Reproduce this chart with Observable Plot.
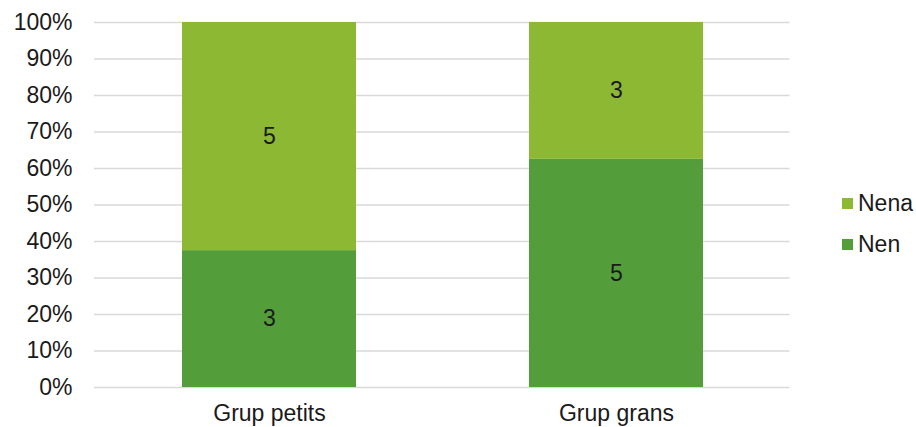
<!DOCTYPE html>
<html>
<head>
<meta charset="utf-8">
<script src="https://cdn.jsdelivr.net/npm/d3@7"></script>
<script src="https://cdn.jsdelivr.net/npm/@observablehq/plot@0.6"></script>
<style>
  html, body { margin: 0; padding: 0; background: #fff; }
  #wrap { position: relative; width: 916px; height: 427px; font-family: "Liberation Sans", Arial, sans-serif; }
  #legend { position: absolute; left: 842px; top: 183px; font-size: 23px; color: #1a1a1a; }
  .item { display: flex; align-items: center; height: 41px; }
  .sw { width: 11px; height: 11px; margin-right: 5px; }
</style>
</head>
<body>
<div id="wrap"><div id="chart"></div><div id="legend"></div></div>
<script>
const groups = ["Grup petits", "Grup grans"];
const seriesNames = ["Nen", "Nena"];
const nen = [3, 5];
const nena = [5, 3];
const yTicks = [0, 0.1, 0.2, 0.3, 0.4, 0.5, 0.6, 0.7, 0.8, 0.9, 1];
const colors = ["#539e3a", "#8cb833"];

const data = [];
groups.forEach((g, i) => {
  data.push({group: g, series: "Nen", value: nen[i]});
  data.push({group: g, series: "Nena", value: nena[i]});
});

const stackOpts = {x: "group", y: "value", z: "series", offset: "normalize", order: seriesNames};

const plot = Plot.plot({
  width: 916,
  height: 427,
  marginLeft: 94,
  marginRight: 126.5,
  marginTop: 22,
  marginBottom: 40,
  style: {fontFamily: "Liberation Sans, Arial, sans-serif", fontSize: "23px", color: "#1a1a1a", background: "#fff"},
  x: {domain: groups, paddingInner: 0.5, paddingOuter: 0.25, label: null, tickSize: 0},
  y: {domain: [0, 1], label: null},
  color: {domain: seriesNames, range: colors},
  marks: [
    Plot.ruleY(yTicks, {stroke: "#d9d9d9", strokeWidth: 1.5}),
    Plot.axisY({ticks: yTicks, tickFormat: d => Math.round(d * 100) + "%", tickSize: 0, tickPadding: 22, fontSize: 23, label: null}),
    Plot.axisX({tickSize: 0, tickPadding: 17, fontSize: 23, label: null}),
    Plot.barY(data, Plot.stackY({...stackOpts, fill: "series"})),
    Plot.text(data, Plot.stackY({...stackOpts, text: "value", fill: "#1a1a1a", fontSize: 23})),
  ]
});
document.getElementById("chart").appendChild(plot);

const legend = document.getElementById("legend");
[["Nena", colors[1]], ["Nen", colors[0]]].forEach(([name, c]) => {
  const d = document.createElement("div");
  d.className = "item";
  d.innerHTML = `<span class="sw" style="background:${c}"></span><span>${name}</span>`;
  legend.appendChild(d);
});
</script>
</body>
</html>
